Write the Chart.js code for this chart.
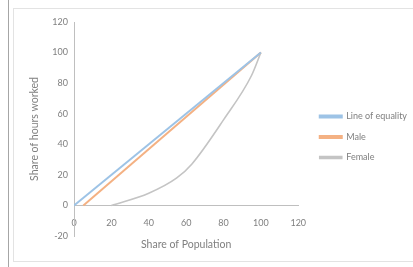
<!DOCTYPE html>
<html>
<head>
<meta charset="utf-8">
<script src="https://cdn.jsdelivr.net/npm/chart.js@4/dist/chart.umd.min.js"></script>
<style>
  html, body { margin: 0; padding: 0; background: #fff; }
  body { width: 413px; height: 267px; position: relative; overflow: hidden; }
  #vline { position: absolute; left: 8px; top: 0; width: 1px; height: 267px; background: #a6a6a6; }
  #frame { position: absolute; left: 13px; top: 8px; width: 410px; height: 254px; border: 1px solid #e3e3e3; box-sizing: border-box; }
  #wrap { position: absolute; left: 14px; top: 9px; width: 399px; height: 258px; }
</style>
</head>
<body>
<div id="vline"></div>
<div id="frame"></div>
<div id="wrap"><canvas id="c"></canvas></div>
<script>
const xTicks = [0, 20, 40, 60, 80, 100, 120];
const yTicks = [-20, 0, 20, 40, 60, 80, 100, 120];
const equalityX = [0, 100];
const equalityY = [0, 100];
const maleX = [5, 100];
const maleY = [0, 100];
const femaleX = [20, 40, 55, 63, 80, 95, 100];
const femaleY = [0, 8, 18, 27, 56, 85, 100];

function pts(xs, ys) { return xs.map((x, i) => ({ x: x, y: ys[i] })); }

const FONT = "Lato, 'Open Sans', 'Liberation Sans', sans-serif";
const TXT = '#7f7f7f';
const AX = '#bfbfbf';

const legendShift = {
  id: 'legendShift',
  afterLayout(chart) {
    const lg = chart.legend;
    if (!lg) return;
    lg.left += 10; lg.right = chart.width;
    lg.top += 8; lg.bottom += 8;
  }
};

new Chart(document.getElementById('c'), {
  type: 'scatter',
  data: {
    datasets: [
      { label: 'Line of equality', data: pts(equalityX, equalityY), showLine: true, borderColor: '#9dc3e6', backgroundColor: '#9dc3e6', borderWidth: 2, pointRadius: 0, tension: 0 },
      { label: 'Male', data: pts(maleX, maleY), showLine: true, borderColor: '#f4b183', backgroundColor: '#f4b183', borderWidth: 2, pointRadius: 0, tension: 0 },
      { label: 'Female', data: pts(femaleX, femaleY), showLine: true, borderColor: '#c4c4c4', backgroundColor: '#c4c4c4', borderWidth: 1.6, pointRadius: 0, cubicInterpolationMode: 'monotone' }
    ]
  },
  options: {
    responsive: true,
    maintainAspectRatio: false,
    animation: false,
    layout: { padding: { left: 6, right: 22, top: 13, bottom: 31 } },
    plugins: {
      tooltip: { enabled: false },
      legend: {
        position: 'right',
        align: 'center',
        labels: {
          boxWidth: 22,
          boxHeight: 2,
          padding: 11.5,
          color: TXT,
          font: { family: FONT, size: 9 }
        }
      }
    },
    scales: {
      x: {
        type: 'linear',
        position: { y: 0 },
        min: 0, max: 120,
        afterBuildTicks: (s) => { s.ticks = xTicks.map(v => ({ value: v })); },
        afterFit: (s) => { s.height = 43; },
        grid: { display: false, drawTicks: false, tickLength: 0, color: AX },
        border: { display: true, color: AX, width: 1 },
        ticks: { color: TXT, font: { family: FONT, size: 9 }, padding: 12, maxRotation: 0 },
        title: { display: true, text: 'Share of Population', color: TXT, font: { family: FONT, size: 10.5 }, padding: { top: 0, bottom: -2 } }
      },
      y: {
        type: 'linear',
        position: 'left',
        min: -20, max: 120,
        afterBuildTicks: (s) => { s.ticks = yTicks.map(v => ({ value: v })); },
        afterFit: (s) => { s.width = 54; },
        grid: { display: false, drawTicks: true, tickLength: 4, color: AX },
        border: { display: true, color: AX, width: 1 },
        ticks: { color: TXT, font: { family: FONT, size: 9 }, padding: 2 },
        title: { display: true, text: 'Share of hours worked', color: TXT, font: { family: FONT, size: 10.5 }, padding: { top: 8, bottom: 0 } }
      }
    }
  },
  plugins: [legendShift]
});
</script>
</body>
</html>
